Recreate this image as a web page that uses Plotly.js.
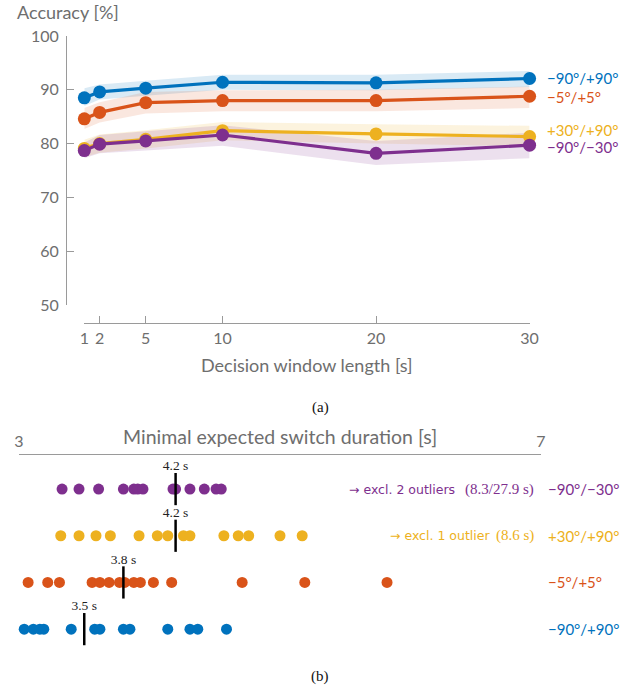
<!DOCTYPE html>
<html>
<head>
<meta charset="utf-8">
<script src="https://cdn.plot.ly/plotly-3.0.1.min.js"></script>
<style>html,body{margin:0;padding:0;background:#fff;}#chart{width:641px;height:692px;}</style>
</head>
<body>
<div id="chart"></div>
<script>
// ---------- Data (a) ----------
const winLen = [1, 2, 5, 10, 20, 30];
const groups = ['−90°/+90°', '−5°/+5°', '+30°/+90°', '−90°/−30°'];
const colors = ['#0072BD', '#D95319', '#EDB120', '#7E2F8E'];
const bands = ['rgba(0,114,189,0.15)', 'rgba(217,83,25,0.14)', 'rgba(237,177,32,0.15)', 'rgba(126,47,142,0.15)'];

const accBlue   = [88.5, 89.6, 90.3, 91.4, 91.3, 92.1];
const accOrange = [84.6, 85.8, 87.6, 88.0, 88.0, 88.8];
const accYellow = [79.1, 80.0, 80.8, 82.4, 81.8, 81.3];
const accPurple = [78.7, 79.9, 80.5, 81.6, 78.2, 79.7];

const loBlue   = [87.0, 88.2, 88.9, 90.0, 89.9, 90.5];
const hiBlue   = [90.3, 91.0, 91.7, 92.8, 92.8, 93.5];
const loOrange = [82.7, 83.9, 85.6, 86.0, 86.0, 86.6];
const hiOrange = [86.6, 87.7, 89.6, 89.9, 90.0, 90.6];
const loYellow = [77.5, 78.3, 79.1, 80.6, 80.0, 79.5];
const hiYellow = [80.7, 81.7, 82.5, 84.0, 83.6, 83.3];
const loPurple = [77.3, 78.2, 78.7, 79.6, 76.0, 77.3];
const hiPurple = [80.2, 81.6, 82.3, 83.4, 80.5, 82.0];

// ---------- Data (b) ----------
const swPurple = [3.33, 3.46, 3.61, 3.80, 3.88, 3.91, 3.95, 4.18, 4.20, 4.31, 4.42, 4.51, 4.55];
const swYellow = [3.32, 3.46, 3.59, 3.70, 3.92, 4.06, 4.14, 4.26, 4.31, 4.57, 4.68, 4.76, 5.00, 5.17];
const swOrange = [3.07, 3.22, 3.31, 3.56, 3.62, 3.69, 3.77, 3.81, 3.88, 3.93, 4.03, 4.17, 4.71, 5.19, 5.82];
const swBlue   = [3.04, 3.11, 3.16, 3.19, 3.40, 3.58, 3.62, 3.80, 3.85, 4.14, 4.31, 4.37, 4.59];
const medians  = [3.5, 3.8, 4.2, 4.2]; // blue, orange, yellow, purple
const noteText = ['', '', '→ excl. 1 outlier', '→ excl. 2 outliers'];
const noteVals = ['', '', '(8.6 s)', '(8.3/27.9 s)'];
const noteTextRight = [0, 0, 492, 457];

const SANS = 'Lato, sans-serif';
const SERIF = 'Liberation Serif, serif';
const NOTE = 'DejaVu Sans, sans-serif';
const GRAY = '#6e6e6e';
const AX = '#9a9a9a';
const W = 641, H = 692;
const px = v => v / W, py = v => 1 - v / H;

const acc = [accBlue, accOrange, accYellow, accPurple];
const lo = [loBlue, loOrange, loYellow, loPurple];
const hi = [hiBlue, hiOrange, hiYellow, hiPurple];
const sw = [swBlue, swOrange, swYellow, swPurple];

const traces = [];
for (let i = 0; i < 4; i++) {
  traces.push({x: winLen, y: lo[i], xaxis: 'x', yaxis: 'y', mode: 'lines', line: {width: 0, color: bands[i]}, hoverinfo: 'skip', showlegend: false});
  traces.push({x: winLen, y: hi[i], xaxis: 'x', yaxis: 'y', mode: 'lines', line: {width: 0, color: bands[i]}, fill: 'tonexty', fillcolor: bands[i], hoverinfo: 'skip', showlegend: false});
}
[2, 3, 1, 0].forEach(i => {
  traces.push({x: winLen, y: acc[i], xaxis: 'x', yaxis: 'y', mode: 'lines+markers', cliponaxis: false,
    line: {color: colors[i], width: 3.2}, marker: {color: colors[i], size: 13}, showlegend: false});
});
for (let i = 0; i < 4; i++) {
  traces.push({x: sw[i], y: sw[i].map(() => groups[i]), xaxis: 'x2', yaxis: 'y2', mode: 'markers', cliponaxis: false,
    marker: {color: colors[i], size: 11}, showlegend: false});
}
traces.push({x: medians, y: groups, xaxis: 'x2', yaxis: 'y2', mode: 'markers+text', cliponaxis: false,
  marker: {symbol: 'line-ns', size: 23, line: {color: '#000', width: 2.5}},
  text: medians.map(m => m.toFixed(1) + ' s'), textposition: 'top center',
  textfont: {family: SERIF, size: 13.5, color: '#222'}, showlegend: false});

const annotations = [
  {text: 'Accuracy [%]', xref: 'paper', yref: 'paper', x: px(15), y: py(12), xanchor: 'left', yanchor: 'middle', showarrow: false, font: {family: SANS, size: 18, color: GRAY}},
  {text: 'Decision window length [s]', xref: 'paper', yref: 'paper', x: px(307), y: py(365), xanchor: 'center', yanchor: 'middle', showarrow: false, font: {family: SANS, size: 18, color: GRAY}},
  {text: 'Minimal expected switch duration [s]', xref: 'paper', yref: 'paper', x: px(280), y: py(436), xanchor: 'center', yanchor: 'middle', showarrow: false, font: {family: SANS, size: 19.5, color: GRAY}},
  {text: '(a)', xref: 'paper', yref: 'paper', x: px(320), y: py(407), xanchor: 'center', yanchor: 'middle', showarrow: false, font: {family: SERIF, size: 15, color: '#111'}},
  {text: '(b)', xref: 'paper', yref: 'paper', x: px(320), y: py(676), xanchor: 'center', yanchor: 'middle', showarrow: false, font: {family: SERIF, size: 15, color: '#111'}}
];
const topShift = [1, -1, 7, -2];
for (let i = 0; i < 4; i++) {
  annotations.push({text: groups[i], xref: 'paper', yref: 'y', x: px(545), y: acc[i][acc[i].length - 1], yshift: topShift[i],
    xanchor: 'left', yanchor: 'middle', showarrow: false, font: {family: SANS, size: 15, color: colors[i]}});
  annotations.push({text: groups[i], xref: 'paper', yref: 'y2', x: px(546), y: groups[i],
    xanchor: 'left', yanchor: 'middle', showarrow: false, font: {family: SANS, size: 15, color: colors[i]}});
  if (noteText[i]) {
    annotations.push({text: noteText[i], xref: 'paper', yref: 'y2', x: px(noteTextRight[i]), y: groups[i],
      xanchor: 'right', yanchor: 'middle', showarrow: false, font: {family: NOTE, size: 12.5, color: colors[i]}});
    annotations.push({text: noteVals[i], xref: 'paper', yref: 'y2', x: px(536), y: groups[i],
      xanchor: 'right', yanchor: 'middle', showarrow: false, font: {family: SERIF, size: 15, color: colors[i]}});
  }
}

const layout = {
  width: W, height: H, margin: {l: 0, r: 0, t: 0, b: 0}, paper_bgcolor: '#fff', plot_bgcolor: 'rgba(0,0,0,0)',
  showlegend: false, font: {family: SANS, color: GRAY},
  xaxis: {domain: [px(84.3), px(529.6)], range: [1, 30], anchor: 'free', position: py(323),
    tickvals: winLen, ticks: 'inside', ticklen: 7, tickcolor: AX, showline: true, linecolor: AX, linewidth: 1.3,
    showgrid: false, zeroline: false, tickfont: {family: SANS, size: 16, color: GRAY}},
  yaxis: {domain: [py(305), py(36)], range: [50, 100], anchor: 'free', position: px(66),
    tickvals: [50, 60, 70, 80, 90, 100], ticks: 'inside', ticklen: 7, tickcolor: AX, showline: true, linecolor: AX, linewidth: 1.3,
    ticklabelstandoff: 4,
    showgrid: false, zeroline: false, tickfont: {family: SANS, size: 16, color: GRAY}},
  xaxis2: {domain: [px(19), px(541)], range: [3, 7], anchor: 'y2', side: 'top',
    tickvals: [3, 7], ticks: 'inside', ticklen: 7, tickcolor: AX, showline: true, linecolor: AX, linewidth: 1.3,
    showgrid: false, zeroline: false, tickfont: {family: SANS, size: 16, color: GRAY}},
  yaxis2: {domain: [py(652), py(455)], type: 'category', categoryarray: groups, categoryorder: 'array', range: [-0.49, 3.73],
    anchor: 'x2', visible: false, showgrid: false, zeroline: false},
  annotations: annotations
};

Plotly.newPlot('chart', traces, layout, {displayModeBar: false, staticPlot: true});
</script>
</body>
</html>
